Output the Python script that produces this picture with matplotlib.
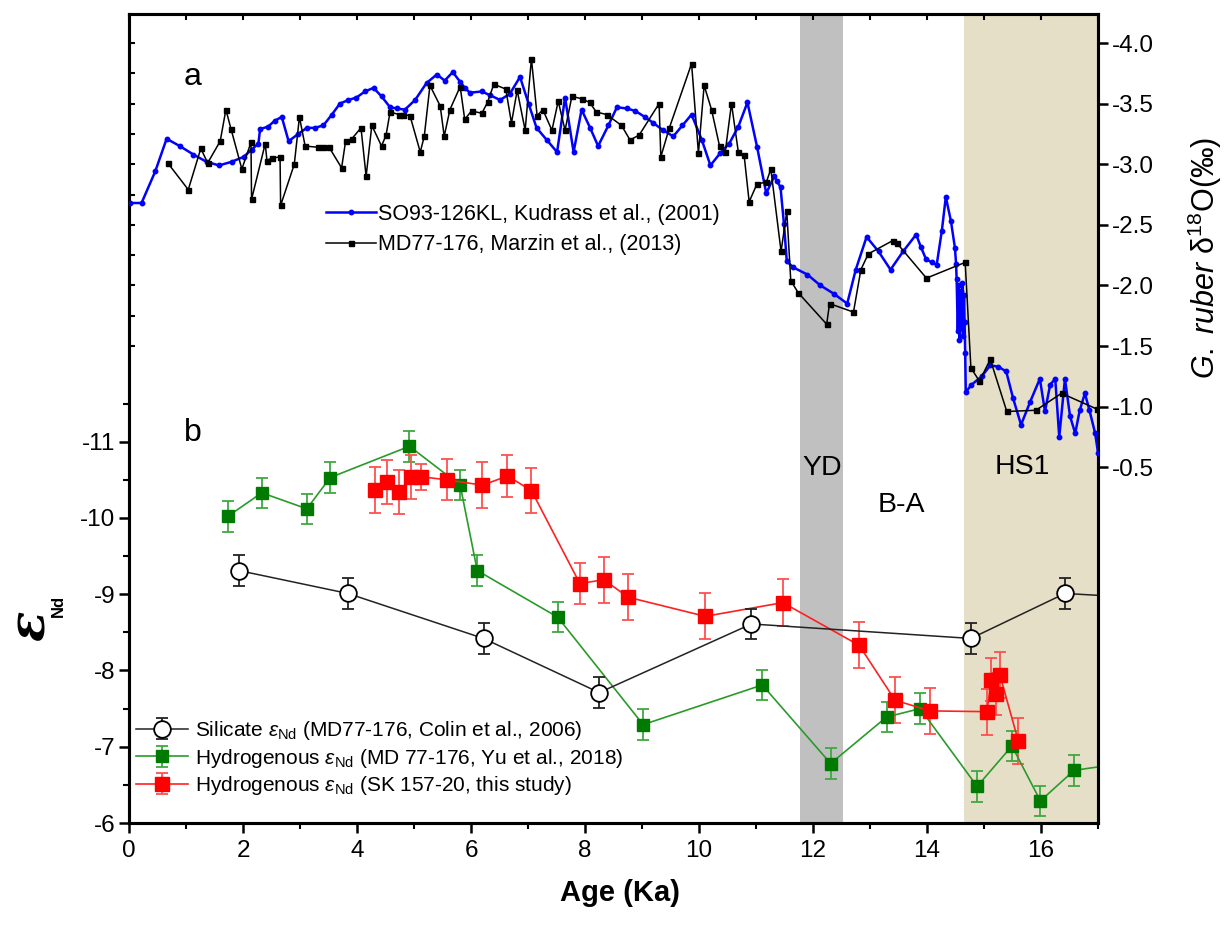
import matplotlib
matplotlib.use('Agg')
import matplotlib.pyplot as plt
import numpy as np
from matplotlib.ticker import FixedLocator, MultipleLocator

plt.rcParams['font.family'] = ['Liberation Sans', 'DejaVu Sans']
plt.rcParams['mathtext.fontset'] = 'custom'
plt.rcParams['mathtext.rm'] = 'Liberation Sans'
plt.rcParams['mathtext.it'] = 'Liberation Sans:italic'
plt.rcParams['mathtext.bf'] = 'Liberation Sans:bold'
plt.rcParams['axes.unicode_minus'] = False

# ---------------- data ----------------
# (a) G. ruber d18O
blue_age = [0.02, 0.22, 0.46, 0.66, 0.89, 1.13, 1.36, 1.58, 1.80, 2.01, 2.15, 2.27, 2.30, 2.44, 2.56, 2.68,
            2.80, 2.97, 3.12, 3.26, 3.41, 3.56, 3.70, 3.85, 3.99, 4.14, 4.29, 4.43, 4.58, 4.70, 4.84, 5.02,
            5.22, 5.40, 5.54, 5.68, 5.81, 5.89, 5.98, 6.19, 6.33, 6.51, 6.68, 6.86, 7.01, 7.15, 7.33, 7.51,
            7.65, 7.80, 7.94, 8.09, 8.23, 8.41, 8.56, 8.73, 8.88, 9.05, 9.20, 9.37, 9.55, 9.71, 9.87, 10.05,
            10.20, 10.37, 10.53, 10.69, 10.85, 11.02, 11.18, 11.32, 11.37, 11.43, 11.49, 11.54, 11.65, 11.90,
            12.13, 12.37, 12.60, 12.75, 12.94, 13.15, 13.36, 13.58, 13.81, 13.89, 13.98, 14.08, 14.17, 14.26,
            14.33, 14.42, 14.49, 14.51, 14.52, 14.54, 14.56, 14.57, 14.59, 14.60, 14.62, 14.63, 14.65, 14.66,
            14.67, 14.68, 14.78, 14.96, 15.11, 15.25, 15.39, 15.51, 15.65, 15.81, 15.98, 16.07, 16.16, 16.25,
            16.32, 16.42, 16.51, 16.60, 16.68, 16.77, 16.85, 16.95, 17.00, 17.05]
blue_d18o = [-2.68, -2.68, -2.94, -3.21, -3.15, -3.08, -3.02, -2.99, -3.02, -3.06, -3.12, -3.17, -3.29, -3.31, -3.36, -3.39,
             -3.19, -3.25, -3.30, -3.30, -3.32, -3.41, -3.50, -3.53, -3.55, -3.60, -3.63, -3.56, -3.47, -3.46, -3.45, -3.53,
             -3.67, -3.74, -3.69, -3.76, -3.68, -3.63, -3.59, -3.60, -3.57, -3.53, -3.58, -3.72, -3.50, -3.30, -3.20, -3.10,
             -3.55, -3.10, -3.45, -3.30, -3.15, -3.32, -3.47, -3.46, -3.44, -3.39, -3.34, -3.28, -3.23, -3.32, -3.41, -3.20,
             -2.99, -3.09, -3.17, -3.31, -3.51, -3.14, -2.76, -2.90, -2.86, -2.81, -2.51, -2.20, -2.15, -2.09,
             -2.00, -1.93, -1.85, -2.13, -2.40, -2.28, -2.13, -2.28, -2.42, -2.32, -2.22, -2.19, -2.17, -2.45,
             -2.73, -2.53, -2.31, -2.18, -2.05, -1.62, -2.00, -1.55, -1.95, -1.65, -2.02, -1.58, -1.92, -1.70,
             -1.44, -1.12, -1.18, -1.25, -1.34, -1.33, -1.29, -1.07, -0.85, -1.04, -1.23, -0.96, -1.18, -1.23,
             -0.75, -1.23, -0.92, -0.78, -0.97, -1.11, -0.97, -0.78, -0.62, -0.55]

black_age = [0.68, 1.04, 1.26, 1.38, 1.60, 1.70, 1.79, 1.98, 2.14, 2.15, 2.39, 2.42, 2.50, 2.65, 2.66, 2.90,
             2.99, 3.09, 3.31, 3.41, 3.51, 3.73, 3.80, 3.91, 4.07, 4.16, 4.26, 4.43, 4.51, 4.58, 4.74, 4.81,
             4.93, 5.11, 5.18, 5.28, 5.46, 5.53, 5.63, 5.81, 5.89, 6.01, 6.19, 6.29, 6.40, 6.61, 6.71, 6.81,
             6.95, 7.06, 7.16, 7.26, 7.42, 7.53, 7.65, 7.77, 7.94, 8.08, 8.20, 8.38, 8.64, 8.79, 8.95, 9.30,
             9.33, 9.48, 9.87, 9.99, 10.09, 10.22, 10.36, 10.46, 10.57, 10.69, 10.79, 10.88, 11.02, 11.18,
             11.26, 11.44, 11.54, 11.61, 11.74, 12.24, 12.29, 12.71, 12.84, 12.97, 13.40, 13.47, 13.99, 14.67,
             14.77, 14.92, 15.11, 15.40, 15.91, 16.36, 16.98, 17.30]
black_d18o = [-3.01, -2.79, -3.13, -3.01, -3.19, -3.45, -3.29, -2.96, -3.18, -2.71, -3.17, -3.03, -3.05, -3.06, -2.66, -3.00,
              -3.39, -3.15, -3.14, -3.14, -3.14, -2.97, -3.19, -3.21, -3.30, -2.90, -3.32, -3.15, -3.24, -3.43, -3.41, -3.41,
              -3.40, -3.10, -3.23, -3.65, -3.48, -3.23, -3.45, -3.64, -3.37, -3.44, -3.42, -3.51, -3.66, -3.62, -3.34, -3.61,
              -3.28, -3.87, -3.40, -3.45, -3.28, -3.52, -3.28, -3.56, -3.54, -3.51, -3.43, -3.41, -3.32, -3.20, -3.24, -3.50,
              -3.06, -3.30, -3.83, -3.09, -3.65, -3.45, -3.15, -3.10, -3.50, -3.10, -3.08, -2.69, -2.84, -2.85,
              -2.96, -2.28, -2.61, -2.04, -1.94, -1.68, -1.85, -1.78, -2.13, -2.26, -2.37, -2.35, -2.06, -2.19,
              -1.32, -1.21, -1.39, -0.96, -0.97, -1.11, -0.98, -0.95]

# (b) eNd
sil_age = [1.93, 3.84, 6.22, 8.25, 10.92, 14.77, 16.42, 17.60]
sil_end = [-9.31, -9.01, -8.42, -7.71, -8.61, -8.42, -9.01, -8.96]
sil_err = [0.2, 0.2, 0.2, 0.2, 0.2, 0.2, 0.2, 0.2]

grn_age = [1.73, 2.33, 3.12, 3.53, 4.92, 5.81, 6.11, 7.52, 9.02, 11.11, 12.31, 13.29, 13.88, 14.88, 15.49, 15.99, 16.58, 17.60]
grn_end = [-10.02, -10.33, -10.12, -10.53, -10.94, -10.43, -9.31, -8.70, -7.29, -7.81, -6.78, -7.39, -7.50, -6.48, -7.01, -6.29, -6.69, -6.80]
grn_err = [0.2] * 18

red_age = [4.32, 4.52, 4.74, 4.95, 5.13, 5.58, 6.20, 6.64, 7.06, 7.91, 8.33, 8.76, 10.11, 11.47, 12.81, 13.44, 14.05,
           15.05, 15.13, 15.21, 15.28, 15.60]
red_end = [-10.37, -10.47, -10.34, -10.54, -10.54, -10.50, -10.43, -10.55, -10.36, -9.14, -9.19, -8.96, -8.71, -8.89, -8.33,
           -7.61, -7.47, -7.46, -7.88, -7.69, -7.94, -7.08]
red_err = [0.30, 0.29, 0.29, 0.29, 0.17, 0.27, 0.30, 0.28, 0.30, 0.27, 0.30, 0.30, 0.30, 0.31, 0.30, 0.30, 0.30,
           0.30, 0.28, 0.28, 0.30, 0.30]

yd_band = (11.77, 12.53)
hs1_band = (14.65, 17.5)

xticks_major = [0, 2, 4, 6, 8, 10, 12, 14, 16]
end_ticks = [-6, -7, -8, -9, -10, -11]
end_minor = [-6.5, -7.5, -8.5, -9.5, -10.5, -11.5]
d18o_ticks = [-4.0, -3.5, -3.0, -2.5, -2.0, -1.5, -1.0, -0.5]

# ---------------- figure ----------------
W, H = 1230, 930
L, R, T, B = 129, 1098, 14, 823
fig = plt.figure(figsize=(W / 100, H / 100), dpi=100)
pos = [L / W, 1 - B / H, (R - L) / W, (B - T) / H]

ax = fig.add_axes(pos)
ax.set_xlim(0, 17)
ax.set_ylim(-6, -6 - (B - T) / 76.26)

ax.axvspan(*yd_band, color='#c0c0c0', zorder=0, lw=0)
ax.axvspan(*hs1_band, color='#e6dfc7', zorder=0, lw=0)

ax.errorbar(sil_age, sil_end, yerr=sil_err, color='#222222', lw=1.1, marker='o', ms=12, mfc='white', mec='black',
            mew=1.3, ecolor='#222222', elinewidth=1.3, capsize=4.5, capthick=1.3, zorder=5,
            label=r'Silicate $\varepsilon_{\rm Nd}$ (MD77-176, Colin et al., 2006)')
ax.errorbar(grn_age, grn_end, yerr=grn_err, color='#2a9a2a', lw=1.2, marker='s', ms=9, mfc='#007a00', mec='#007a00',
            ecolor='#3fa83f', elinewidth=1.3, capsize=4.5, capthick=1.3, zorder=4,
            label=r'Hydrogenous $\varepsilon_{\rm Nd}$ (MD 77-176, Yu et al., 2018)')
ax.errorbar(red_age, red_end, yerr=red_err, color='#ff2020', lw=1.2, marker='s', ms=9.5, mfc='#ff0000', mec='#ff0000',
            ecolor='#ff5050', elinewidth=1.3, capsize=4.5, capthick=1.3, zorder=4,
            label=r'Hydrogenous $\varepsilon_{\rm Nd}$ (SK 157-20, this study)')

ax.xaxis.set_major_locator(FixedLocator(xticks_major))
ax.xaxis.set_minor_locator(MultipleLocator(1))
ax.yaxis.set_major_locator(FixedLocator(end_ticks))
ax.yaxis.set_minor_locator(FixedLocator(end_minor))
ax.set_yticklabels([str(v) for v in end_ticks])
ax.tick_params(axis='both', which='major', direction='out', length=7, width=1.8, labelsize=17.5)
ax.tick_params(axis='both', which='minor', direction='out', length=4, width=1.5)
ax.tick_params(axis='x', pad=5)
ax.tick_params(axis='y', pad=3)
for s in ax.spines.values():
    s.set_linewidth(2.2)

ax.legend(loc='upper left', bbox_to_anchor=(136 / W, 1 - 719 / H), bbox_transform=fig.transFigure,
          frameon=False, fontsize=15, handlelength=2.5, handletextpad=0.35, labelspacing=0.22,
          borderaxespad=0, borderpad=0)

# right axis: d18O
ax2 = ax.twinx()
ax2.set_ylim(-4.0 + (B - 43) * 0.00825, -4.0 - (43 - T) * 0.00825)
ax2.plot(blue_age, blue_d18o, color='#0000ff', lw=1.8, marker='o', ms=3.2, zorder=3,
         label='SO93-126KL, Kudrass et al., (2001)')
ax2.plot(black_age, black_d18o, color='black', lw=1.1, marker='s', ms=3.6, zorder=3,
         label='MD77-176, Marzin et al., (2013)')
ax2.set_yticks(d18o_ticks)
ax2.set_yticklabels(['%.1f' % v for v in d18o_ticks])
ax2.tick_params(axis='y', which='major', direction='out', length=7, width=1.8, labelsize=17.5, pad=3)
for s in ax2.spines.values():
    s.set_linewidth(2.2)
ax2.set_xlim(0, 17)
ax2.legend(loc='upper left', bbox_to_anchor=(326 / W, 1 - 204 / H), bbox_transform=fig.transFigure,
           frameon=False, fontsize=15.5, handlelength=2.3, handletextpad=0.12, labelspacing=0.42,
           borderaxespad=0, borderpad=0)

# extra inward ticks (top spine and upper-left spine of panel a)
ax3 = fig.add_axes(pos, frameon=False)
ax3.patch.set_visible(False)
ax3.set_xlim(0, 17)
ax3.set_ylim(ax2.get_ylim())
ax3.set_xticks(list(range(0, 18)))
ax3.set_yticks(list(np.arange(-4.0, -1.49, 0.25)))
ax3.tick_params(axis='x', bottom=False, top=True, labelbottom=False, labeltop=False, direction='in', length=4, width=1.5)
ax3.tick_params(axis='y', left=True, right=False, labelleft=False, direction='in', length=4, width=1.5)

# texts
def ftext(px, py, s, **kw):
    fig.text(px / W, 1 - py / H, s, ha='center', va='center', **kw)

ftext(193, 77, 'a', fontsize=23)
ftext(193, 433, 'b', fontsize=23)
ftext(822, 468, 'YD', fontsize=20.5)
ftext(901, 505, 'B-A', fontsize=20.5)
ftext(1022, 467, 'HS1', fontsize=20.5)
ftext(620, 893, 'Age (Ka)', fontsize=21, fontweight='bold')
ftext(1205, 258, r'$\it{G.\ ruber}$ δ$^{18}$O(‰)', fontsize=22, rotation=90)
ftext(31, 626, 'ε', fontsize=36, fontweight='bold', fontstyle='italic', family=['DejaVu Serif'], rotation=90)
ftext(58, 606, 'Nd', fontsize=12, fontweight='bold', rotation=90)

fig.savefig('out.png', dpi=100)
